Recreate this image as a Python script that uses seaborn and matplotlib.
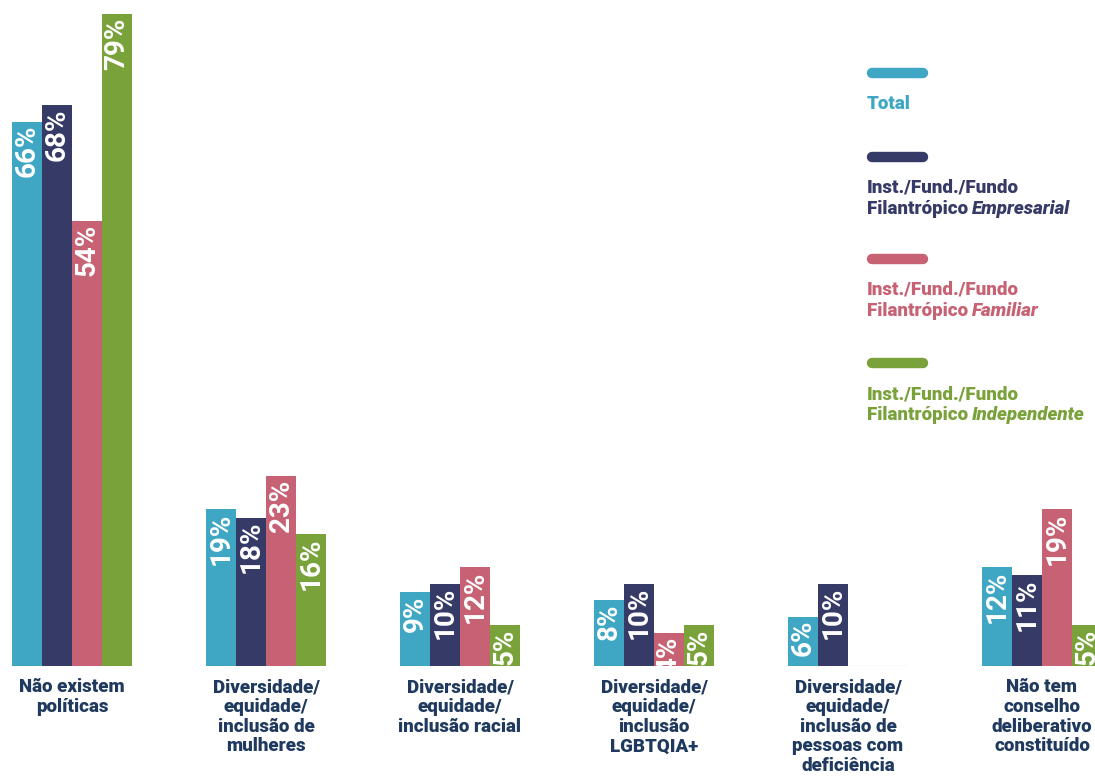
import pandas as pd
import matplotlib
matplotlib.use("Agg")
import matplotlib.pyplot as plt
import seaborn as sns
from matplotlib.lines import Line2D
from matplotlib.transforms import blended_transform_factory

# Data
categories = [
    "Não existem\npolíticas",
    "Diversidade/\nequidade/\ninclusão de\nmulheres",
    "Diversidade/\nequidade/\ninclusão racial",
    "Diversidade/\nequidade/\ninclusão\nLGBTQIA+",
    "Diversidade/\nequidade/\ninclusão de\npessoas com\ndeficiência",
    "Não tem\nconselho\ndeliberativo\nconstituído",
]
series = ["Total", "Empresarial", "Familiar", "Independente"]
total = [66, 19, 9, 8, 6, 12]
empresarial = [68, 18, 10, 10, 10, 11]
familiar = [54, 23, 12, 4, 0, 19]
independente = [79, 16, 5, 5, 0, 5]
legend_first = ["Total", "Inst./Fund./Fundo", "Inst./Fund./Fundo", "Inst./Fund./Fundo"]
legend_italic = [None, "Empresarial", "Familiar", "Independente"]

colors = ["#3fa7c4", "#363a66", "#c76274", "#7aa23a"]
label_color = "#1f3a5e"

df = pd.DataFrame({"categoria": categories, "Total": total, "Empresarial": empresarial,
                   "Familiar": familiar, "Independente": independente})
df = df.melt(id_vars="categoria", var_name="serie", value_name="valor")

sns.set_style("white")
plt.rcParams["font.family"] = ["Roboto", "DejaVu Sans"]

fig = plt.figure(figsize=(10.95, 7.79), dpi=100)
ax = fig.add_axes([0, 113 / 779, 1, 666 / 779])
sns.barplot(data=df, x="categoria", y="valor", hue="serie", order=categories,
            hue_order=series, palette=colors, width=0.62, saturation=1,
            linewidth=0, legend=False, ax=ax)
ax.set_ylim(0, 666 / 8.25)
ax.set_xlim(-72 / 194, (1095 - 72) / 194)
sns.despine(ax=ax, left=True, bottom=True)
ax.set_xticks([])
ax.set_yticks([])
ax.set_xlabel("")
ax.set_ylabel("")

# value labels inside bars, rotated
for cont in ax.containers:
    for bar in cont:
        h = bar.get_height()
        if h <= 0:
            bar.set_edgecolor("#e8dde0")
            bar.set_linewidth(1)
            continue
        t = ax.annotate(f"{h:.0f}%", (bar.get_x() + bar.get_width() / 2, h),
                        xytext=(0, -2.5), textcoords="offset points",
                        rotation=90, ha="center", va="top", color="white",
                        fontsize=20, fontweight="bold")
        t.set_clip_path(ax.patch)

# category labels under the groups
trans = blended_transform_factory(ax.transData, ax.transAxes)
for i, cat in enumerate(categories):
    ax.text(i, -12 / 666, cat, transform=trans, ha="center", va="top",
            fontsize=13.5, fontweight="heavy", color=label_color, linespacing=1.13)

# custom legend on the right
line_y = [73, 157, 259, 363]
renderer = fig.canvas.get_renderer()
for i, name in enumerate(series):
    y = 1 - line_y[i] / 779
    fig.add_artist(Line2D([872 / 1095, 923 / 1095], [y, y], transform=fig.transFigure,
                          color=colors[i], lw=7.5, solid_capstyle="round"))
    ty = line_y[i] + 22
    fig.text(867 / 1095, 1 - ty / 779, legend_first[i], ha="left", va="top",
             fontsize=13.5, fontweight="heavy", color=colors[i])
    if legend_italic[i]:
        ty2 = ty + 21
        second = fig.text(867 / 1095, 1 - ty2 / 779, "Filantrópico", ha="left", va="top",
                          fontsize=13.5, fontweight="heavy", color=colors[i])
        x1 = second.get_window_extent(renderer).x1
        fig.text((x1 + 4) / 1095, 1 - ty2 / 779, legend_italic[i], ha="left", va="top",
                 fontsize=13.5, fontweight="heavy", fontstyle="italic", color=colors[i])

fig.savefig("out.png", dpi=100)
plt.close(fig)
